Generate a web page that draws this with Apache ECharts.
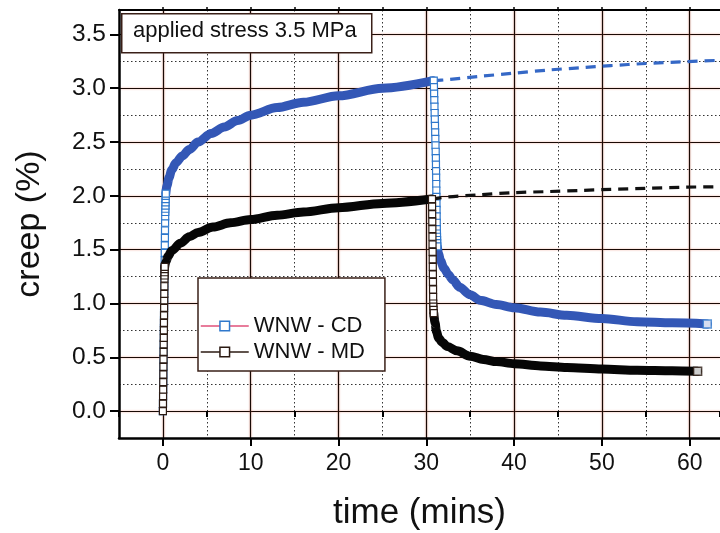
<!DOCTYPE html>
<html><head><meta charset="utf-8">
<script src="https://cdn.jsdelivr.net/npm/echarts@6/dist/echarts.min.js"></script>
<style>html,body{margin:0;padding:0;background:#fff}#c{width:720px;height:533px}</style>
</head><body><div id="c"></div>
<script>
// tick values
const xMajorTicks = [0, 10, 20, 30, 40, 50, 60];
const xTopTicks = [0, 5, 10, 15, 20, 25, 30, 35, 40, 45, 50, 55, 60];
const yMajorTicks = [0, 0.5, 1.0, 1.5, 2.0, 2.5, 3.0, 3.5];

// WNW - CD: [time, creep]
const cdRise = [[0,0],[0.01,0.07],[0.02,0.14],[0.03,0.21],[0.04,0.28],[0.05,0.35],[0.06,0.42],[0.07,0.49],[0.08,0.56],[0.09,0.63],[0.1,0.7],[0.11,0.77],[0.12,0.84],[0.13,0.91],[0.14,0.98],[0.15,1.05],[0.16,1.12],[0.17,1.19],[0.18,1.26],[0.19,1.33],[0.2,1.4],[0.21,1.47],[0.22,1.54],[0.23,1.61],[0.24,1.68],[0.25,1.75],[0.26,1.81],[0.27,1.85],[0.28,1.88],[0.29,1.91],[0.3,1.94],[0.31,1.97],[0.32,2.0],[0.33,2.02]];
const cdLoad = [[0.33,2.02],[0.45,2.09],[0.7,2.17],[1,2.24],[1.5,2.31],[2.2,2.37],[3,2.43],[4,2.5],[5.5,2.58],[7,2.64],[8.5,2.7],[10,2.75],[13,2.82],[16,2.87],[20,2.93],[25,3.0],[30.8,3.07]];
const cdDrop = [[30.85,3.07],[30.87,3.01],[30.89,2.95],[30.91,2.89],[30.93,2.83],[30.95,2.77],[30.97,2.71],[30.99,2.65],[31.01,2.59],[31.03,2.53],[31.05,2.47],[31.07,2.41],[31.09,2.35],[31.1,2.29],[31.11,2.23],[31.12,2.17],[31.13,2.11],[31.14,2.05],[31.15,1.99],[31.16,1.93],[31.17,1.87],[31.18,1.81],[31.19,1.75],[31.2,1.69],[31.21,1.65],[31.22,1.62],[31.23,1.59],[31.24,1.56],[31.25,1.53]];
const cdRecovery = [[31.25,1.53],[31.4,1.46],[31.6,1.4],[32,1.33],[32.5,1.27],[33,1.22],[33.8,1.15],[35,1.08],[36.1,1.03],[38,0.99],[40,0.96],[43,0.92],[46,0.89],[50,0.86],[54,0.83],[58,0.82],[62,0.81]];
const cdExtrap = [[30.8,3.07],[32.4,3.08],[36,3.11],[40,3.14],[44,3.17],[47.5,3.19],[51,3.21],[55,3.23],[59,3.245],[63.45,3.26]];

// WNW - MD
const mdRise = [[0,0],[0.01,0.07],[0.02,0.14],[0.03,0.2],[0.04,0.27],[0.05,0.34],[0.06,0.41],[0.07,0.48],[0.08,0.55],[0.09,0.62],[0.1,0.68],[0.11,0.75],[0.12,0.82],[0.13,0.89],[0.14,0.96],[0.15,1.03],[0.16,1.09],[0.17,1.16],[0.18,1.23],[0.185,1.26],[0.19,1.29],[0.195,1.32],[0.2,1.34]];
const mdLoad = [[0.2,1.34],[0.35,1.39],[0.6,1.44],[1,1.49],[2,1.56],[3,1.62],[4,1.66],[5.7,1.71],[7.7,1.75],[10,1.78],[13,1.82],[16,1.85],[20,1.89],[25,1.93],[30.6,1.97]];
const mdDrop = [[30.65,1.97],[30.66,1.9],[30.67,1.83],[30.68,1.76],[30.69,1.69],[30.7,1.62],[30.71,1.55],[30.72,1.48],[30.73,1.41],[30.74,1.34],[30.75,1.27],[30.76,1.2],[30.77,1.13],[30.78,1.06],[30.79,1.0],[30.8,0.97],[30.82,0.94],[30.85,0.91]];
const mdRecovery = [[30.85,0.91],[31.0,0.82],[31.15,0.74],[31.4,0.68],[31.8,0.64],[32.4,0.6],[33.5,0.56],[35,0.51],[36.5,0.48],[38,0.46],[40,0.44],[43,0.42],[46,0.405],[50,0.39],[54,0.38],[58,0.375],[60.9,0.37]];
const mdExtrap = [[30.6,1.97],[32.4,1.99],[36,2.01],[40,2.03],[44,2.04],[47.5,2.05],[51,2.06],[55,2.07],[59,2.08],[63.45,2.085]];

const FONT = 'Liberation Sans, Arial, sans-serif';
const CD_BAND = '#3357b6', CD_SQ = '#2f78cc', CD_DASH = '#3568c6';
const MD_BAND = '#060606', MD_SQ = '#2b1a12';
const XMIN = -5, XMAX = 63.45, YMIN = -0.25, YMAX = 3.727;

const majorLine = { color: '#1a0a05', width: 1.2, shadowColor: 'rgba(230,110,80,0.7)', shadowBlur: 2 };
const minorLine = { color: '#333', width: 1, type: [1.5, 2.5] };

function squares(name, data, border, lineColor, z) {
  return { name, type: 'line', data, symbol: 'rect', symbolSize: 7, showSymbol: true,
    itemStyle: { color: '#fff', borderColor: border, borderWidth: 1.2 },
    lineStyle: { color: lineColor, width: 1 }, z, animation: false };
}
function band(name, data, color, width, z) {
  return { name, type: 'line', data, showSymbol: false, smooth: 0.3, smoothMonotone: 'x',
    lineStyle: { color, width, cap: 'round' }, z, animation: false };
}
function endMark(name, pt, border, z) {
  return { name, type: 'scatter', data: [pt], symbol: 'rect', symbolSize: 8,
    itemStyle: { color: '#fff', borderColor: border, borderWidth: 1.5 }, z, animation: false };
}
function dashed(name, data, color, z) {
  return { name, type: 'line', data, showSymbol: false, smooth: 0.3,
    lineStyle: { color, width: 3.2, type: [10, 7] }, z, animation: false };
}

const chart = echarts.init(document.getElementById('c'));
chart.setOption({
  animation: false,
  backgroundColor: '#fff',
  grid: { left: 119, right: 0, top: 10, bottom: 95, outerBoundsMode: 'none' },
  xAxis: [
    { type: 'value', min: XMIN, max: XMAX, position: 'bottom',
      axisLine: { show: true, onZero: false, lineStyle: { color: '#000', width: 2.5 } },
      axisTick: { show: true, customValues: xMajorTicks, length: 8, lineStyle: { color: '#000', width: 2 } },
      axisLabel: { customValues: xMajorTicks, fontSize: 23, color: '#111', margin: 14, fontFamily: FONT },
      splitLine: { show: true, lineStyle: majorLine },
      name: 'time (mins)', nameLocation: 'middle', nameGap: 58,
      nameTextStyle: { fontSize: 35, color: '#111', fontFamily: FONT } },
    { type: 'value', min: XMIN, max: XMAX, interval: 10, position: 'bottom',
      axisLine: { show: false }, axisLabel: { show: false },
      axisTick: { show: true, length: 6, lineStyle: { color: '#000', width: 2 } },
      splitLine: { show: true, lineStyle: minorLine } },
    { type: 'value', min: XMIN, max: XMAX, position: 'top',
      axisLine: { show: true, onZero: false, lineStyle: { color: '#000', width: 2 } },
      axisTick: { show: true, customValues: xTopTicks, length: 3, lineStyle: { color: '#000', width: 1.5 } },
      axisLabel: { show: false }, splitLine: { show: false } }
  ],
  yAxis: [
    { type: 'value', min: YMIN, max: YMAX, position: 'left',
      axisLine: { show: true, onZero: false, lineStyle: { color: '#000', width: 2.5 } },
      axisTick: { show: true, customValues: yMajorTicks, length: 9, lineStyle: { color: '#000', width: 2 } },
      axisLabel: { customValues: yMajorTicks, formatter: v => v.toFixed(1), fontSize: 24.5, color: '#111', margin: 13, fontFamily: FONT },
      splitLine: { show: true, lineStyle: majorLine },
      name: 'creep (%)', nameLocation: 'middle', nameGap: 72, nameRotate: 90,
      nameTextStyle: { fontSize: 34, color: '#111', fontFamily: FONT } },
    { type: 'value', min: YMIN, max: YMAX, interval: 0.5, position: 'left',
      axisLine: { show: false }, axisTick: { show: false }, axisLabel: { show: false },
      splitLine: { show: true, lineStyle: minorLine } }
  ],
  legend: {
    orient: 'vertical', left: 198, top: 278, z: 50,
    padding: [37, 20, 8, 2], itemGap: 4, itemWidth: 48, itemHeight: 12,
    backgroundColor: '#fff', borderColor: '#3a2018', borderWidth: 1.5,
    textStyle: { fontSize: 22, color: '#111', fontFamily: FONT, lineHeight: 22 },
    data: [
      { name: 'WNW - CD', itemStyle: { color: '#fff', borderColor: CD_SQ, borderWidth: 1.5 }, lineStyle: { color: '#e0507a', width: 1.5 } },
      { name: 'WNW - MD', itemStyle: { color: '#fff', borderColor: MD_SQ, borderWidth: 1.5 }, lineStyle: { color: MD_SQ, width: 1.5 } }
    ]
  },
  graphic: [
    { type: 'rect', left: 121, top: 13, z: 100, zlevel: 0,
      shape: { x: 0, y: 0, width: 250, height: 39 }, style: { fill: '#fff', stroke: '#3a2018', lineWidth: 1.5 } },
    { type: 'text', left: 133, top: 20, z: 101, zlevel: 0,
      style: { text: 'applied stress 3.5 MPa', fontSize: 22, fontFamily: FONT, fill: '#111' } }
  ],
  series: [
    dashed('cdExtrap', cdExtrap, CD_DASH, 3),
    band('cdLoad', cdLoad, CD_BAND, 9, 4),
    band('cdRecovery', cdRecovery, CD_BAND, 9, 4),
    squares('WNW - CD', cdRise, CD_SQ, CD_SQ, 5),
    squares('cdDrop', cdDrop, CD_SQ, CD_SQ, 5),
    endMark('cdEnd', cdRecovery[cdRecovery.length - 1], CD_SQ, 6),
    dashed('mdExtrap', mdExtrap, '#111', 6),
    band('mdLoad', mdLoad, MD_BAND, 9, 7),
    band('mdRecovery', mdRecovery, MD_BAND, 9, 7),
    squares('WNW - MD', mdRise, MD_SQ, MD_SQ, 8),
    squares('mdDrop', mdDrop, MD_SQ, MD_SQ, 8),
    endMark('mdEnd', mdRecovery[mdRecovery.length - 1], MD_SQ, 9)
  ]
});
</script></body></html>
